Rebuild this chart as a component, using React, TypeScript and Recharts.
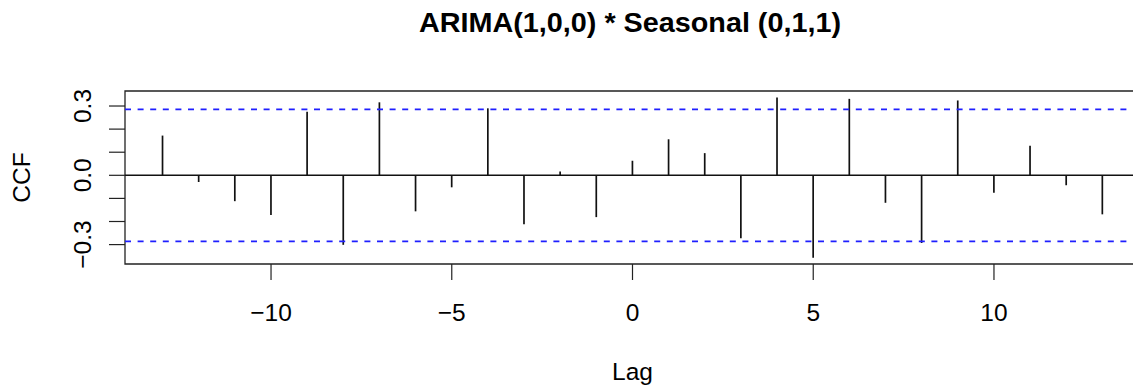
import React from 'react';
import { ComposedChart, Bar, XAxis, YAxis, ReferenceLine, ReferenceArea } from 'recharts';

const lags = [-13, -12, -11, -10, -9, -8, -7, -6, -5, -4, -3, -2, -1, 0, 1, 2, 3, 4, 5, 6, 7, 8, 9, 10, 11, 12, 13];
const ccfValues = [0.172, -0.029, -0.112, -0.172, 0.275, -0.301, 0.316, -0.156, -0.052, 0.29, -0.212, 0.017, -0.181, 0.063, 0.156, 0.096, -0.273, 0.337, -0.357, 0.331, -0.119, -0.293, 0.324, -0.076, 0.128, -0.043, -0.169];
const confLimit = 0.2857;
const xTicks = [-10, -5, 0, 5, 10];
const xTickLabels = ['\u221210', '\u22125', '0', '5', '10'];
const yTicks = [-0.3, -0.2, -0.1, 0, 0.1, 0.2, 0.3];
const yTickLabels: Record<string, string> = { '-0.3': '\u22120.3', '0': '0.0', '0.3': '0.3' };
const xDomain = [-14.04, 14.04];
const yDomain = [-0.384, 0.365];
const title = 'ARIMA(1,0,0) * Seasonal (0,1,1)';

const data = lags.map((lag, i) => ({ lag, ccf: ccfValues[i] }));
const FONT = '"Liberation Sans", Arial, Helvetica, sans-serif';
const AXIS_FS = 24.5;

const Stick = (props: any) => {
  const { x, y, width, height } = props;
  if (x == null || y == null) return null;
  const cx = x + width / 2;
  return <line x1={cx} x2={cx} y1={y} y2={y + height} stroke="#111" strokeWidth={1.7} />;
};

const XTick = (props: any) => {
  const { x, y, payload } = props;
  const idx = xTicks.indexOf(payload.value);
  return (
    <text x={x} y={y} textAnchor="middle" fontSize={AXIS_FS} fontFamily={FONT} fill="#000">
      {idx >= 0 ? xTickLabels[idx] : ''}
    </text>
  );
};

const YTick = (props: any) => {
  const { x, y, payload } = props;
  const key = String(Math.round(payload.value * 10) / 10);
  const label = yTickLabels[key];
  if (!label) return null;
  return (
    <text transform={`translate(${x},${y}) rotate(-90)`} textAnchor="middle" fontSize={AXIS_FS} fontFamily={FONT} fill="#000">
      {label}
    </text>
  );
};

export default function App() {
  return (
    <div style={{ position: 'absolute', left: 0, top: 0, width: 1133, height: 387, overflow: 'hidden', background: '#fff' }}>
      <svg width={1133} height={50} style={{ position: 'absolute', left: 0, top: 0 }}>
        <text x={630} y={32} textAnchor="middle" fontSize={28} fontWeight="bold" fontFamily={FONT} textLength={422} lengthAdjust="spacingAndGlyphs" fill="#000">
          {title}
        </text>
      </svg>
      <div style={{ position: 'absolute', left: 0, top: 0 }}>
        <ComposedChart width={1141} height={387} data={data} margin={{ top: 91, right: 1, bottom: 0, left: 0 }}>
          <XAxis
            type="number"
            dataKey="lag"
            domain={xDomain}
            ticks={xTicks}
            allowDataOverflow
            axisLine={false}
            tickSize={16}
            tickMargin={41}
            tickLine={{ stroke: '#222', strokeWidth: 1.2 }}
            tick={<XTick />}
            height={123}
            label={(p: any) => {
              const vb = p.viewBox;
              return (
                <text x={vb.x + vb.width / 2} y={vb.y + 116} textAnchor="middle" fontSize={AXIS_FS} fontFamily={FONT} fill="#000">
                  Lag
                </text>
              );
            }}
          />
          <YAxis
            type="number"
            domain={yDomain}
            ticks={yTicks}
            allowDataOverflow
            axisLine={false}
            tickSize={16}
            tickMargin={18}
            tickLine={{ stroke: '#222', strokeWidth: 1.2 }}
            tick={<YTick />}
            width={125}
            label={(p: any) => {
              const vb = p.viewBox;
              return (
                <text transform={`translate(${vb.x + 30},${vb.y + vb.height / 2}) rotate(-90)`} textAnchor="middle" fontSize={AXIS_FS} fontFamily={FONT} fill="#000">
                  CCF
                </text>
              );
            }}
          />
          <ReferenceArea x1={xDomain[0]} x2={xDomain[1]} y1={yDomain[0]} y2={yDomain[1]} fill="none" stroke="#222" strokeWidth={1.3} ifOverflow="visible" />
          <ReferenceLine y={0} stroke="#111" strokeWidth={1.6} />
          <ReferenceLine y={confLimit} stroke="#1f1fff" strokeWidth={1.8} strokeDasharray="6 6.6" />
          <ReferenceLine y={-confLimit} stroke="#1f1fff" strokeWidth={1.8} strokeDasharray="6 6.6" />
          <Bar dataKey="ccf" barSize={2} shape={<Stick />} isAnimationActive={false} />
        </ComposedChart>
      </div>
    </div>
  );
}
